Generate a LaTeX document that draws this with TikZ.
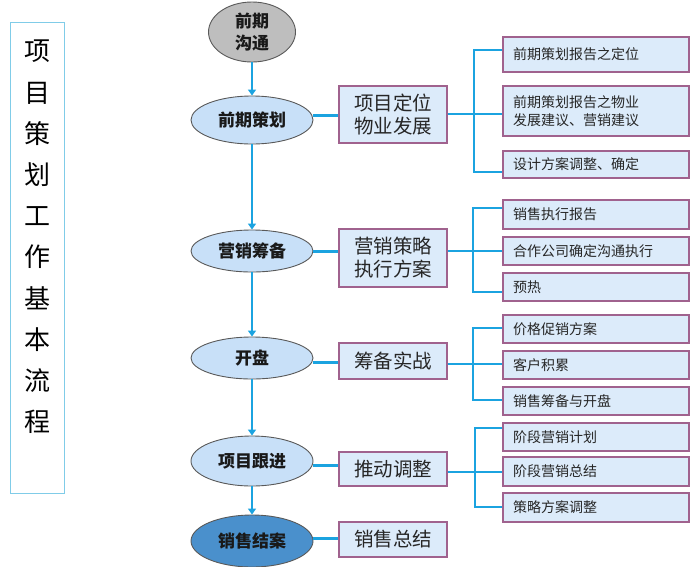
\documentclass[tikz,border=0pt]{standalone}
\usepackage{fontspec}
\setmainfont{Noto Sans CJK SC}
\usetikzlibrary{shapes.geometric,arrows.meta}
\definecolor{lineblue}{HTML}{1BA3E0}
\definecolor{ellfill}{HTML}{C8E0F8}
\definecolor{darkell}{HTML}{4A90CC}
\definecolor{grayell}{HTML}{BEBEBE}
\definecolor{boxfill}{HTML}{DCEBFA}
\definecolor{boxline}{HTML}{A0628E}
\definecolor{titleline}{HTML}{80CCE8}
\tikzset{
  ell/.style={ellipse,draw=black!65,line width=0.9pt,fill=ellfill,inner sep=0pt,
    minimum width=122pt,minimum height=46pt,font=\fontsize{17}{21}\selectfont\bfseries,text=black!90},
  midbox/.style={draw=boxline,line width=1.1pt,fill=boxfill,inner sep=0pt,
    minimum width=108pt,align=center,font=\fontsize{19.5}{23}\selectfont,text=black!85},
  rbox/.style={draw=boxline,line width=1.1pt,fill=boxfill,inner sep=0pt,
    minimum width=186pt,text width=166pt,align=left,font=\fontsize{14}{18}\selectfont,text=black!85},
  conn/.style={lineblue,line width=3pt},
  brk/.style={lineblue,line width=2pt},
  arr/.style={lineblue,line width=2.6pt,-{Triangle[width=8pt,length=6pt]}}
}
\begin{document}
\begin{tikzpicture}[x=1pt,y=-1pt]
\useasboundingbox (0,0) rectangle (690,566);
% title
\node[draw=titleline,line width=1pt,minimum width=54pt,minimum height=471pt,inner sep=0pt] (title) at (37,257.5) {};
\node[align=center,font=\fontsize{26}{41.2}\selectfont,inner sep=0pt,anchor=north] (titletext) at (37,40)
 {项\\目\\策\\划\\工\\作\\基\\本\\流\\程};
% ellipses
\node[ell,fill=grayell,minimum width=87pt,minimum height=60pt,align=center,font=\fontsize{17}{22}\selectfont\bfseries] (e0) at (252,32) {前期\\沟通};
\node[ell,minimum height=48pt] (e1) at (252,120) {前期策划};
\node[ell,minimum height=42pt] (e2) at (252,251) {营销筹备};
\node[ell,minimum height=42pt] (e3) at (252,358) {开盘};
\node[ell,minimum height=50pt] (e4) at (252,461) {项目跟进};
\node[ell,fill=darkell,minimum height=52pt] (e5) at (252,541) {销售结案};
% arrows
\draw[arr] (e0.south) -- (e1.north);
\draw[arr] (e1.south) -- (e2.north);
\draw[arr] (e2.south) -- (e3.north);
\draw[arr] (e3.south) -- (e4.north);
\draw[arr] (e4.south) -- (e5.north);
% middle boxes
\node[midbox,minimum height=57pt] (m1) at (393,114.5) {项目定位\\物业发展};
\node[midbox,minimum height=58pt] (m2) at (393,258) {营销策略\\执行方案};
\node[midbox,minimum height=36pt] (m3) at (393,361) {筹备实战};
\node[midbox,minimum height=34pt] (m4) at (393,469) {推动调整};
\node[midbox,minimum height=35pt] (m5) at (393,539.5) {销售总结};
\draw[conn] (e1.east |- 0,115) -- (m1.west |- 0,115);
\draw[conn] (e2.east) -- (m2.west |- e2.east);
\draw[conn] (e3.east |- 0,362) -- (m3.west |- 0,362);
\draw[conn] (e4.east |- 0,465) -- (m4.west |- 0,465);
\draw[conn] (e5.east |- 0,538) -- (m5.west |- 0,538);
% right boxes group 1
\node[rbox,minimum height=35pt] (r11) at (596,54.5) {前期策划报告之定位};
\node[rbox,minimum height=50pt] (r12) at (596,111) {前期策划报告之物业\\发展建议、营销建议};
\node[rbox,minimum height=27pt] (r13) at (596,164.5) {设计方案调整、确定};
\coordinate (b1t) at (474,50);
\coordinate (b1m) at (474,114);
\coordinate (b1b) at (474,172);
\draw[brk] (m1.east |- b1m) -- (r12.west |- b1m);
\draw[brk] (r11.west |- b1t) -- (b1t) -- (b1b) -- (r13.west |- b1b);
% group 2
\node[rbox,minimum height=29pt] (r21) at (596,214.5) {销售执行报告};
\node[rbox,minimum height=28pt] (r22) at (596,251) {合作公司确定沟通执行};
\node[rbox,minimum height=28pt] (r23) at (596,287) {预热};
\coordinate (b2t) at (473,208);
\coordinate (b2m) at (473,251);
\coordinate (b2b) at (473,292);
\draw[brk] (m2.east |- b2m) -- (r22.west |- b2m);
\draw[brk] (r21.west |- b2t) -- (b2t) -- (b2b) -- (r23.west |- b2b);
% group 3
\node[rbox,minimum height=28pt] (r31) at (596,329) {价格促销方案};
\node[rbox,minimum height=28pt] (r32) at (596,365) {客户积累};
\node[rbox,minimum height=28pt] (r33) at (596,401) {销售筹备与开盘};
\coordinate (b3t) at (473,328);
\coordinate (b3m) at (473,364);
\coordinate (b3b) at (473,400);
\draw[brk] (m3.east |- b3m) -- (r32.west |- b3m);
\draw[brk] (r31.west |- b3t) -- (b3t) -- (b3b) -- (r33.west |- b3b);
% group 4
\node[rbox,minimum height=28pt] (r41) at (596,437) {阶段营销计划};
\node[rbox,minimum height=29pt] (r42) at (596,471.5) {阶段营销总结};
\node[rbox,minimum height=29pt] (r43) at (596,507.5) {策略方案调整};
\coordinate (b4t) at (475,428);
\coordinate (b4m) at (475,472);
\coordinate (b4b) at (475,507);
\draw[brk] (m4.east |- b4m) -- (r42.west |- b4m);
\draw[brk] (r41.west |- b4t) -- (b4t) -- (b4b) -- (r43.west |- b4b);
\end{tikzpicture}
\end{document}
